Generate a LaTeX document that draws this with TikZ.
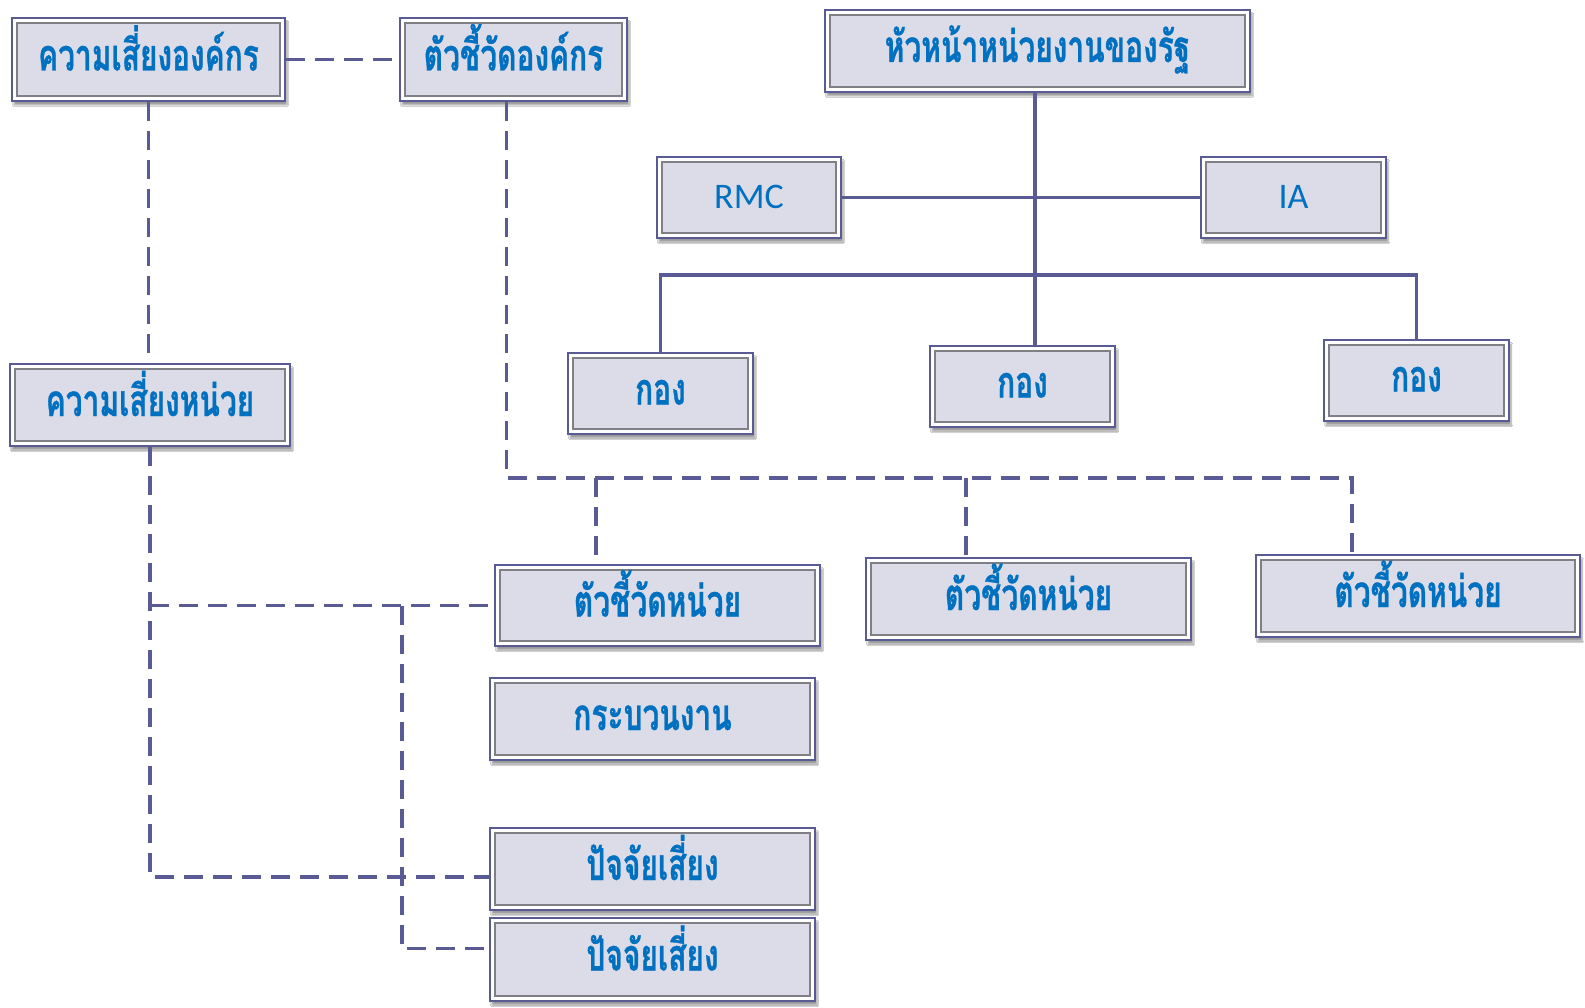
\documentclass[tikz,border=0pt]{standalone}
\usepackage{fontspec}
\usetikzlibrary{shadows.blur}
\newfontfamily\thaifont[Script=Thai, FakeStretch=0.68, FakeBold=0.6]{Loma}
\newfontfamily\latinsans{Carlito}
\definecolor{linecol}{HTML}{5A5A94}
\definecolor{boxfill}{HTML}{DCDCE8}
\definecolor{innerline}{HTML}{7F7F85}
\definecolor{textcol}{HTML}{0070C0}
\tikzset{
  orgbox/.style args={#1/#2}{
    rectangle, draw=linecol, line width=2.5pt, fill=white,
    minimum width=#1pt, minimum height=#2pt, inner sep=0pt,
    blur shadow={shadow xshift=2pt, shadow yshift=-4pt, shadow opacity=40, shadow blur steps=6},
    path picture={
      \fill[boxfill, draw=innerline, line width=1.8pt]
        ([shift={(5pt,5pt)}]path picture bounding box.south west)
        rectangle ([shift={(-5pt,-5pt)}]path picture bounding box.north east);
    },
    text=textcol, font=\thaifont\bfseries\fontsize{44}{48}\selectfont,
    text height=22pt, text depth=0pt
  },
  latinlabel/.style={font=\latinsans\fontsize{36}{40}\selectfont},
  solidlink/.style={draw=linecol, line width=3.5pt},
  dashlink/.style={draw=linecol, line width=3.5pt, dash pattern=on 19pt off 10pt}
}
\begin{document}
\begin{tikzpicture}[x=1pt, y=-1pt]
\useasboundingbox[fill=white] (0,0) rectangle (1585,1008);

% boxes
\node[orgbox=273/83] (korg)   at (148.5,59.5) {ความเสี่ยงองค์กร};
\node[orgbox=227/83] (kpiorg) at (513.5,59.5) {ตัวชี้วัดองค์กร};
\node[orgbox=425/82] (head)   at (1037.5,51)  {หัวหน้าหน่วยงานของรัฐ};
\node[orgbox=184/81, latinlabel] (rmc) at (749,197.5) {RMC};
\node[orgbox=185/81, latinlabel] (ia)  at (1293.5,197.5) {IA};
\node[orgbox=185/81] (div1) at (660.5,393.5) {กอง};
\node[orgbox=185/81] (div2) at (1022.5,386.5) {กอง};
\node[orgbox=185/81] (div3) at (1416.5,380.5) {กอง};
\node[orgbox=280/82] (runit) at (150,405) {ความเสี่ยงหน่วย};
\node[orgbox=325/81] (kpi1) at (657.5,605.5) {ตัวชี้วัดหน่วย};
\node[orgbox=325/82] (kpi2) at (1028.5,599) {ตัวชี้วัดหน่วย};
\node[orgbox=324/82] (kpi3) at (1418,596) {ตัวชี้วัดหน่วย};
\node[orgbox=325/82] (proc) at (652.5,719) {กระบวนงาน};
\node[orgbox=325/82] (rf1)  at (652.5,869) {ปัจจัยเสี่ยง};
\node[orgbox=325/83] (rf2)  at (652.5,959.5) {ปัจจัยเสี่ยง};

% solid organisation links
\coordinate (bus) at (1035,275);
\draw[solidlink] (rmc.east) -- (ia.west);
\draw[solidlink] (head.south -| bus) -- (div2.north -| bus);
\draw[solidlink] (div1.north) |- (bus) -| (div3.north);

% dashed indicator links
\draw[dashlink] (korg.east) -- (kpiorg.west);
\draw[dashlink] (korg.south) -- (korg.south |- runit.north);

\coordinate (kbus) at (1352,478);
\coordinate (k1) at (596,478);
\coordinate (k2) at (966,478);
\draw[dashlink] ([xshift=-7pt]kpiorg.south) |- (kbus) -- (kbus |- kpi3.north);
\draw[dashlink] (k1) -- (k1 |- kpi1.north);
\draw[dashlink] (k2) -- (k2 |- kpi2.north);

\draw[dashlink] (runit.south) |- ([yshift=-8pt]rf1.west);
\draw[dashlink] (runit.south |- kpi1.west) -- (kpi1.west);
\coordinate (jn) at (402,605.5);
\draw[dashlink] (jn) |- ([yshift=11pt]rf2.west);
\end{tikzpicture}
\end{document}
